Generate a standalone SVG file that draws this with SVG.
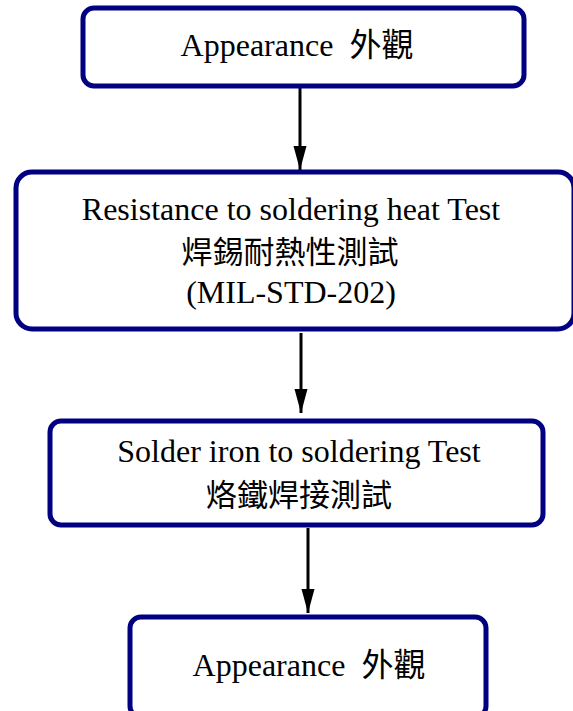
<svg xmlns="http://www.w3.org/2000/svg" width="573" height="711" viewBox="0 0 573 711">
<defs>
<style>
.box{fill:#fff;stroke:#000080;stroke-width:5}
.t{font-family:"Liberation Serif","Noto Sans CJK TC",serif;font-size:32px;fill:#000;text-anchor:middle;white-space:pre}
.c{font-family:"Noto Sans CJK TC",serif;font-size:31px;fill:#000;text-anchor:middle}
.ln{stroke:#000;stroke-width:3;fill:none}
</style>
<marker id="ah" viewBox="0 0 24 14" refX="24" refY="7" markerWidth="24" markerHeight="14" orient="auto" markerUnits="userSpaceOnUse">
<path d="M0,0.5 L24,7 L0,13.5 z" fill="#000"/>
</marker>
</defs>
<rect width="573" height="711" fill="#fff"/>
<g id="connectors">
<line class="ln" x1="300" y1="88" x2="300" y2="170" marker-end="url(#ah)"/>
<line class="ln" x1="301" y1="333" x2="301" y2="413" marker-end="url(#ah)"/>
<line class="ln" x1="308" y1="528" x2="308" y2="613" marker-end="url(#ah)"/>
</g>
<g id="n1">
<rect class="box" x="83" y="8" width="441" height="78" rx="11"/>
<text class="t" x="297" y="56" xml:space="preserve">Appearance  外觀</text>
</g>
<g id="n2">
<rect class="box" x="16" y="172" width="558" height="157" rx="16"/>
<text class="t" x="291" y="220">Resistance to soldering heat Test</text>
<text class="c" x="290" y="263">焊錫耐熱性測試</text>
<text class="t" x="291" y="303">(MIL-STD-202)</text>
</g>
<g id="n3">
<rect class="box" x="50" y="421" width="493" height="104" rx="11"/>
<text class="t" x="299" y="462">Solder iron to soldering Test</text>
<text class="c" x="299" y="506">烙鐵焊接測試</text>
</g>
<g id="n4">
<rect class="box" x="130" y="617" width="356" height="100" rx="11"/>
<text class="t" x="309" y="676" xml:space="preserve">Appearance  外觀</text>
</g>
</svg>
